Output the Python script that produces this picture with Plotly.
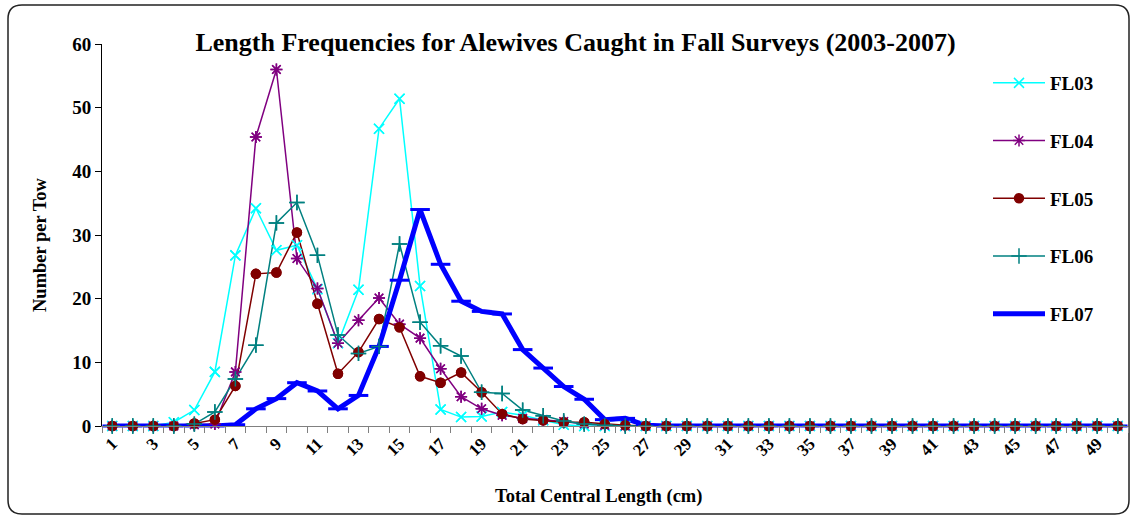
import plotly.graph_objects as go

# ---------------- data ----------------
lengths = [1, 2, 3, 4, 5, 6, 7, 8, 9, 10, 11, 12, 13, 14, 15, 16, 17, 18, 19, 20,
           21, 22, 23, 24, 25, 26, 27, 28, 29, 30, 31, 32, 33, 34, 35, 36, 37, 38, 39, 40,
           41, 42, 43, 44, 45, 46, 47, 48, 49, 50]
tick_labels = ["1", "3", "5", "7", "9", "11", "13", "15", "17", "19", "21", "23", "25",
               "27", "29", "31", "33", "35", "37", "39", "41", "43", "45", "47", "49"]
tick_positions = [1, 3, 5, 7, 9, 11, 13, 15, 17, 19, 21, 23, 25,
                  27, 29, 31, 33, 35, 37, 39, 41, 43, 45, 47, 49]

fl03 = [0, 0, 0, 0.6, 2.5, 8.5, 26.8, 34.2, 27.6, 28.4, 21.5, 13.0, 21.4, 46.7, 51.4,
        22.0, 2.6, 1.4, 1.5, 2.2, 1.7, 0.9, 0.2, 0, 0, 0, 0, 0, 0, 0,
        0, 0, 0, 0, 0, 0, 0, 0, 0, 0, 0, 0, 0, 0, 0, 0, 0, 0, 0, 0]
fl04 = [0, 0, 0, 0, 0.2, 0.3, 8.5, 45.4, 56.0, 26.3, 21.6, 13.0, 16.6, 20.1, 16.0,
        13.8, 9.0, 4.6, 2.7, 1.7, 1.2, 1.0, 0.7, 0.3, 0.1, 0, 0, 0, 0, 0,
        0, 0, 0, 0, 0, 0, 0, 0, 0, 0, 0, 0, 0, 0, 0, 0, 0, 0, 0, 0]
fl05 = [0, 0, 0, 0, 0.4, 1.0, 6.3, 23.9, 24.1, 30.4, 19.2, 8.2, 11.6, 16.8, 15.5,
        7.8, 6.8, 8.4, 5.3, 1.9, 1.1, 0.9, 0.6, 0.6, 0.3, 0.1, 0, 0, 0, 0,
        0, 0, 0, 0, 0, 0, 0, 0, 0, 0, 0, 0, 0, 0, 0, 0, 0, 0, 0, 0]
fl06 = [0, 0, 0, 0, 0.3, 2.2, 7.4, 12.7, 31.9, 35.1, 26.8, 14.3, 11.4, 12.5, 28.6,
        16.3, 12.6, 11.0, 5.3, 5.1, 2.5, 1.6, 0.8, 0.3, 0.1, 0, 0, 0, 0, 0,
        0, 0, 0, 0, 0, 0, 0, 0, 0, 0, 0, 0, 0, 0, 0, 0, 0, 0, 0, 0]
fl07 = [0, 0, 0, 0, 0, 0, 0.2, 2.7, 4.3, 6.8, 5.5, 2.7, 4.8, 12.5, 22.9,
        34.0, 25.4, 19.6, 18.0, 17.6, 12.0, 9.1, 6.2, 4.2, 1.0, 1.2, 0.1, 0, 0, 0,
        0, 0, 0, 0, 0, 0, 0, 0, 0, 0, 0, 0, 0, 0, 0, 0, 0, 0, 0, 0]

series_names = ["FL03", "FL04", "FL05", "FL06", "FL07"]
series_values = [fl03, fl04, fl05, fl06, fl07]

# ---------------- styles ----------------
styles = {
    "FL03": dict(color="#00FFFF", symbol="x-thin-open", size=10, width=1.5),
    "FL04": dict(color="#800080", symbol="asterisk-open", size=10, width=1.5),
    "FL05": dict(color="#800000", symbol="circle", size=9, width=1.5),
    "FL06": dict(color="#008080", symbol="cross-thin-open", size=11, width=1.5),
    "FL07": dict(color="#0000FF", symbol="line-ew-open", size=14, width=5),
}

FONT = "Liberation Serif, Times New Roman, serif"
W, H = 1133, 519
ML, MR, MT, MB = 102, 5, 44, 93
PW, PH = W - ML - MR, H - MT - MB


def px_x(px):
    return (px - ML) / PW


def px_y(py):
    return (H - MB - py) / PH


fig = go.Figure()

for name, vals in zip(series_names, series_values):
    s = styles[name]
    fig.add_trace(go.Scatter(
        x=lengths, y=vals, name=name, mode="lines+markers",
        legendgroup=name, cliponaxis=False,
        line=dict(color=s["color"], width=s["width"]),
        marker=dict(symbol=s["symbol"], size=s["size"], color=s["color"],
                    line=dict(color=s["color"], width=1.5 if name != "FL07" else 3)),
    ))

# markers of thin series drawn above the thick line (as in the original)
for name, vals in zip(series_names[:4], series_values[:4]):
    s = styles[name]
    fig.add_trace(go.Scatter(
        x=lengths, y=vals, mode="markers", showlegend=False, legendgroup=name,
        cliponaxis=False, hoverinfo="skip",
        marker=dict(symbol=s["symbol"], size=s["size"], color=s["color"],
                    line=dict(color=s["color"], width=1.5)),
    ))

# rounded chart border
x0, x1 = px_x(8), px_x(1129)
y0, y1 = px_y(514), px_y(5)
rx, ry = 14 / PW, 14 / PH
path = (f"M {x0+rx},{y1} L {x1-rx},{y1} Q {x1},{y1} {x1},{y1-ry} "
        f"L {x1},{y0+ry} Q {x1},{y0} {x1-rx},{y0} L {x0+rx},{y0} "
        f"Q {x0},{y0} {x0},{y0+ry} L {x0},{y1-ry} Q {x0},{y1} {x0+rx},{y1} Z")
fig.add_shape(type="path", path=path, xref="paper", yref="paper",
              line=dict(color="#222222", width=1.5), layer="below")

minor_ticks = [0.5 + i for i in range(51)]

fig.update_layout(
    width=W, height=H,
    margin=dict(l=ML, r=MR, t=MT, b=MB, autoexpand=False),
    paper_bgcolor="white", plot_bgcolor="white",
    font=dict(family=FONT, color="black"),
    title=dict(text="Length Frequencies for Alewives Caught in Fall Surveys (2003-2007)",
               x=0.508, xanchor="center", y=1 - 42 / H, yanchor="middle",
               font=dict(family=FONT, size=26, weight="bold", color="black")),
    showlegend=True,
    legend=dict(x=px_x(988), y=px_y(64), xanchor="left", yanchor="top",
                traceorder="grouped", tracegroupgap=30, itemwidth=52,
                bgcolor="rgba(0,0,0,0)",
                font=dict(family=FONT, size=19, weight="bold", color="black")),
    xaxis=dict(range=[0.5, 50.5], tickmode="array", tickvals=tick_positions,
               ticktext=tick_labels, ticks="", tickangle=-45,
               tickfont=dict(family=FONT, size=17, weight="bold", color="black"),
               showline=True, linecolor="#808080", linewidth=1,
               showgrid=False, zeroline=False,
               minor=dict(tickvals=minor_ticks, ticks="outside", ticklen=6,
                          tickcolor="#808080", tickwidth=1, showgrid=False)),
    yaxis=dict(range=[0, 60], tickmode="linear", tick0=0, dtick=10,
               ticks="outside", ticklen=6, tickcolor="black",
               tickfont=dict(family=FONT, size=19, weight="bold", color="black"),
               showline=True, linecolor="black", linewidth=1,
               showgrid=False, zeroline=False),
    annotations=[
        dict(text="Total Central Length (cm)", xref="paper", yref="paper",
             x=px_x(598), y=px_y(497), xanchor="center", yanchor="middle",
             showarrow=False,
             font=dict(family=FONT, size=18.5, weight="bold", color="black")),
        dict(text="Number per Tow", xref="paper", yref="paper",
             x=px_x(40), y=px_y(245), xanchor="center", yanchor="middle",
             textangle=-90, showarrow=False,
             font=dict(family=FONT, size=18.5, weight="bold", color="black")),
    ],
)

fig.write_html("out.html", config={"displayModeBar": False},
               post_script="document.body.style.margin='0';document.body.style.overflow='hidden';")
